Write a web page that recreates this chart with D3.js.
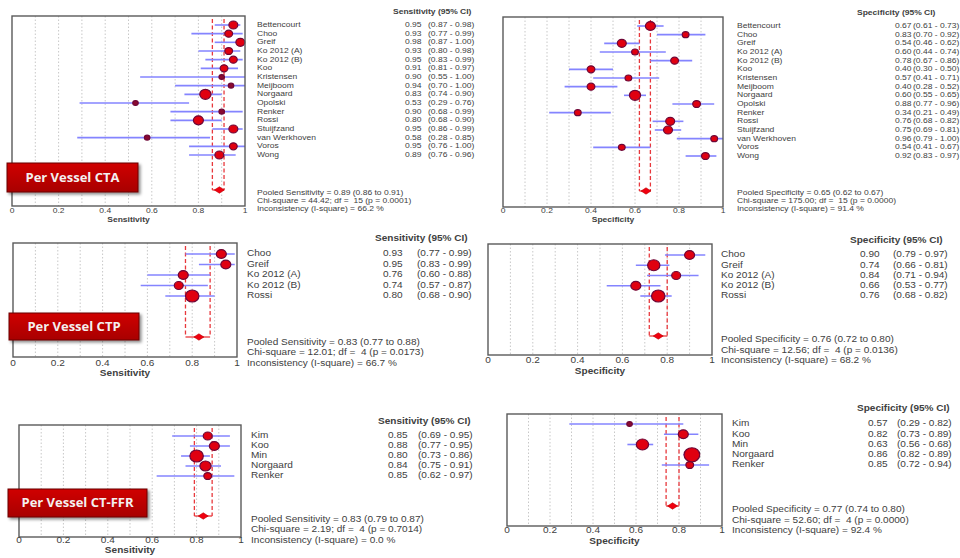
<!DOCTYPE html>
<html>
<head>
<meta charset="utf-8">
<script src="https://cdn.jsdelivr.net/npm/d3@7"></script>
<style>
  body { margin: 0; background: #fff; }
  text { font-family: "Liberation Sans", Arial, sans-serif; fill: #404040; white-space: pre; }
</style>
</head>
<body>
<svg id="chart" width="960" height="558"></svg>
<script>
// study names
const studiesCTA = ['Bettencourt', 'Choo', 'Greif', 'Ko 2012 (A)', 'Ko 2012 (B)', 'Koo', 'Kristensen', 'Meijboom',
    'Norgaard', 'Opolski', 'Renker', 'Rossi', 'Stuijfzand', 'van Werkhoven', 'Voros', 'Wong'];
const studiesCTP = ['Choo', 'Greif', 'Ko 2012 (A)', 'Ko 2012 (B)', 'Rossi'];
const studiesFFR = ['Kim', 'Koo', 'Min', 'Norgaard', 'Renker'];

// [estimate, lower, upper]
const sensCTA = [[0.95, 0.87, 0.98], [0.93, 0.77, 0.99], [0.98, 0.87, 1.00], [0.93, 0.80, 0.98],
    [0.95, 0.83, 0.99], [0.91, 0.81, 0.97], [0.90, 0.55, 1.00], [0.94, 0.70, 1.00],
    [0.83, 0.74, 0.90], [0.53, 0.29, 0.76], [0.90, 0.68, 0.99], [0.80, 0.68, 0.90],
    [0.95, 0.86, 0.99], [0.58, 0.28, 0.85], [0.95, 0.76, 1.00], [0.89, 0.76, 0.96]];
const specCTA = [[0.67, 0.61, 0.73], [0.83, 0.70, 0.92], [0.54, 0.46, 0.62], [0.60, 0.44, 0.74],
    [0.78, 0.67, 0.86], [0.40, 0.30, 0.50], [0.57, 0.41, 0.71], [0.40, 0.28, 0.52],
    [0.60, 0.55, 0.65], [0.88, 0.77, 0.96], [0.34, 0.21, 0.49], [0.76, 0.68, 0.82],
    [0.75, 0.69, 0.81], [0.96, 0.79, 1.00], [0.54, 0.41, 0.67], [0.92, 0.83, 0.97]];
const sensCTP = [[0.93, 0.77, 0.99], [0.95, 0.83, 0.99], [0.76, 0.60, 0.88], [0.74, 0.57, 0.87], [0.80, 0.68, 0.90]];
const specCTP = [[0.90, 0.79, 0.97], [0.74, 0.66, 0.81], [0.84, 0.71, 0.94], [0.66, 0.53, 0.77], [0.76, 0.68, 0.82]];
const sensFFR = [[0.85, 0.69, 0.95], [0.88, 0.77, 0.95], [0.80, 0.73, 0.86], [0.84, 0.75, 0.91], [0.85, 0.62, 0.97]];
const specFFR = [[0.57, 0.29, 0.82], [0.82, 0.73, 0.89], [0.63, 0.56, 0.68], [0.86, 0.82, 0.89], [0.85, 0.72, 0.94]];

// relative study weights (marker area)
const wSensCTA = [16, 12, 16, 12, 12, 12, 6, 6, 25, 6, 6, 20, 16, 6, 12, 16];
const wSpecCTA = [20, 9, 16, 9, 12, 12, 9, 12, 25, 12, 9, 16, 16, 9, 9, 12];
const wSensCTP = [20, 20, 20, 16, 36];
const wSpecCTP = [20, 30, 16, 20, 36];
const wSensFFR = [16, 20, 36, 25, 12];
const wSpecFFR = [6, 20, 30, 49, 12];

// pooled [estimate, lower, upper] and [chi-square, df, p, I-square]
const pooledSensCTA = [0.89, 0.86, 0.91], pooledSpecCTA = [0.65, 0.62, 0.67];
const pooledSensCTP = [0.83, 0.77, 0.88], pooledSpecCTP = [0.76, 0.72, 0.80];
const pooledSensFFR = [0.83, 0.79, 0.87], pooledSpecFFR = [0.77, 0.74, 0.80];
const statsSensCTA = ['44.42', 15, '0.0001', '66.2'], statsSpecCTA = ['175.00', 15, '0.0000', '91.4'];
const statsSensCTP = ['12.01', 4, '0.0173', '66.7'], statsSpecCTP = ['12.56', 4, '0.0136', '68.2'];
const statsSensFFR = ['2.19', 4, '0.7014', '0.0'], statsSpecFFR = ['52.60', 4, '0.0000', '92.4'];

const xTicks = [0, 0.2, 0.4, 0.6, 0.8, 1];
const gridTicks = [0.1, 0.2, 0.3, 0.4, 0.5, 0.6, 0.7, 0.8, 0.9];

const svg = d3.select('#chart');
const fmt = d3.format('.2f');
const rScale = d3.scaleSqrt().domain([0, 49]).range([0, 7]);

// layout of each panel
const panels = [
    {names: studiesCTA, data: sensCTA, w: wSensCTA, pool: pooledSensCTA, st: statsSensCTA, label: 'Sensitivity',
        x0: 12, x1: 245, top: 16, bottom: 206, y0: 25, y1: 155, yPool: 190, fs: 7.4, sx: 1.15,
        nameX: 257, valX: 405, ciX: 428, headX: 393, headY: 12, statY: [193, 201, 209], tickY: 211, labY: 220},
    {names: studiesCTA, data: specCTA, w: wSpecCTA, pool: pooledSpecCTA, st: statsSpecCTA, label: 'Specificity',
        x0: 503, x1: 723, top: 17, bottom: 207, y0: 26, y1: 156, yPool: 191, fs: 7.4, sx: 1.15,
        nameX: 737, valX: 895, ciX: 913, headX: 857, headY: 13, statY: [193, 201, 209], tickY: 211, labY: 220},
    {names: studiesCTP, data: sensCTP, w: wSensCTP, pool: pooledSensCTP, st: statsSensCTP, label: 'Sensitivity',
        x0: 13, x1: 237, top: 243, bottom: 357, y0: 254, y1: 296, yPool: 337, fs: 8.6, sx: 1.17,
        nameX: 247, valX: 383, ciX: 417, headX: 375, headY: 239, statY: [343, 353, 364], tickY: 364, labY: 374},
    {names: studiesCTP, data: specCTP, w: wSpecCTP, pool: pooledSpecCTP, st: statsSpecCTP, label: 'Specificity',
        x0: 488, x1: 712, top: 244, bottom: 355, y0: 255, y1: 296, yPool: 336, fs: 8.6, sx: 1.17,
        nameX: 721, valX: 860, ciX: 893, headX: 850, headY: 241, statY: [340, 351, 361], tickY: 361, labY: 372},
    {names: studiesFFR, data: sensFFR, w: wSensFFR, pool: pooledSensFFR, st: statsSensFFR, label: 'Sensitivity',
        x0: 19, x1: 241, top: 425, bottom: 537, y0: 436, y1: 476, yPool: 516, fs: 8.6, sx: 1.17,
        nameX: 251, valX: 388, ciX: 418, headX: 378, headY: 422, statY: [520, 530, 541], tickY: 541, labY: 551},
    {names: studiesFFR, data: specFFR, w: wSpecFFR, pool: pooledSpecFFR, st: statsSpecFFR, label: 'Specificity',
        x0: 507, x1: 722, top: 414, bottom: 526, y0: 424, y1: 465, yPool: 506, fs: 8.6, sx: 1.17,
        nameX: 732, valX: 868, ciX: 897, headX: 857, headY: 409, statY: [510, 521, 531], tickY: 531, labY: 542}
];

// text drawn slightly wide, like the scanned original
function place(sel, fx, fy, p, anchor) {
    return sel.attr('transform', (d, i) => `translate(${fx(d, i)},${fy(d, i)}) scale(${p.sx},1)`)
        .attr('text-anchor', anchor || 'start')
        .attr('dominant-baseline', 'middle')
        .attr('font-size', p.fs);
}

panels.forEach(p => {
    const g = svg.append('g');
    const x = d3.scaleLinear().domain([0, 1]).range([p.x0, p.x1]);
    const y = d3.scalePoint().domain(p.names).range([p.y0, p.y1]);
    const pool = p.pool;
    const st = p.st;

    // dotted grid
    g.selectAll('.grid').data(gridTicks).enter().append('line')
        .attr('x1', d => x(d)).attr('x2', d => x(d))
        .attr('y1', p.top).attr('y2', p.bottom)
        .attr('stroke', '#c8c8c8').attr('stroke-width', 1).attr('stroke-dasharray', '1.5,2');

    // pooled CI bracket
    g.selectAll('.pci').data([pool[1], pool[2]]).enter().append('line')
        .attr('x1', d => x(d)).attr('x2', d => x(d))
        .attr('y1', p.top + 3).attr('y2', p.yPool)
        .attr('stroke', '#e8383c').attr('stroke-width', 1.3).attr('stroke-dasharray', '4,2.5');
    g.append('line')
        .attr('x1', x(pool[1])).attr('x2', x(pool[2]))
        .attr('y1', p.yPool).attr('y2', p.yPool)
        .attr('stroke', '#e8383c').attr('stroke-width', 1.3);

    // CI lines
    g.selectAll('.ci').data(p.data).enter().append('line')
        .attr('x1', d => x(d[1])).attr('x2', d => x(d[2]))
        .attr('y1', (d, i) => y(p.names[i])).attr('y2', (d, i) => y(p.names[i]))
        .attr('stroke', '#8484ff').attr('stroke-width', 1.6);

    // study markers
    g.selectAll('.pt').data(p.data).enter().append('ellipse')
        .attr('cx', d => x(d[0]))
        .attr('cy', (d, i) => y(p.names[i]))
        .attr('rx', (d, i) => rScale(p.w[i]) * 1.12)
        .attr('ry', (d, i) => rScale(p.w[i]))
        .attr('fill', (d, i) => p.w[i] < 9 ? '#8a0a30' : '#e00010')
        .attr('stroke', '#6e0636').attr('stroke-width', 1.2);

    // pooled diamond
    const cx = x(pool[0]);
    g.append('path')
        .attr('d', `M${cx - 5},${p.yPool} L${cx},${p.yPool - 3.2} L${cx + 5},${p.yPool} L${cx},${p.yPool + 3.2} Z`)
        .attr('fill', '#f00010').attr('stroke', '#c00000').attr('stroke-width', 0.6);

    // frame
    g.append('rect')
        .attr('x', p.x0).attr('y', p.top)
        .attr('width', p.x1 - p.x0).attr('height', p.bottom - p.top)
        .attr('fill', 'none').attr('stroke', '#5a5a5a').attr('stroke-width', 1.4);

    // x tick labels
    place(g.selectAll('.tick').data(xTicks).enter().append('text'), d => x(d), () => p.tickY, p, 'middle')
        .text(d => d);
    place(g.append('text').datum(0), () => x(0.5), () => p.labY, p, 'middle')
        .attr('font-weight', 'bold')
        .text(p.label);

    // header
    place(g.append('text').datum(0), () => p.headX, () => p.headY, p)
        .attr('font-weight', 'bold')
        .text(p.label + ' (95% CI)');

    // study rows
    const rows = g.selectAll('.row').data(p.data).enter().append('g');
    place(rows.append('text'), () => p.nameX, (d, i) => y(p.names[i]), p)
        .text((d, i) => p.names[i]);
    place(rows.append('text'), () => p.valX, (d, i) => y(p.names[i]), p)
        .text(d => fmt(d[0]));
    place(rows.append('text'), () => p.ciX, (d, i) => y(p.names[i]), p)
        .text(d => `(${fmt(d[1])} - ${fmt(d[2])})`);

    // pooled stats
    const lines = [
        `Pooled ${p.label} = ${fmt(pool[0])} (${fmt(pool[1])} to ${fmt(pool[2])})`,
        `Chi-square = ${st[0]}; df =  ${st[1]} (p = ${st[2]})`,
        `Inconsistency (I-square) = ${st[3]} %`
    ];
    place(g.selectAll('.stat').data(lines).enter().append('text'), () => p.nameX, (d, i) => p.statY[i], p)
        .text(d => d);
});

// red labels
const tags = [
    {text: 'Per Vessel CTA', x: 7, y: 163, w: 131, h: 29},
    {text: 'Per Vessel CTP', x: 9, y: 313, w: 130, h: 27},
    {text: 'Per Vessel CT-FFR', x: 8, y: 489, w: 139, h: 28}
];
const defs = svg.append('defs');
const grad = defs.append('linearGradient').attr('id', 'tagGrad').attr('x1', 0).attr('y1', 0).attr('x2', 0).attr('y2', 1);
grad.append('stop').attr('offset', '0%').attr('stop-color', '#d00000');
grad.append('stop').attr('offset', '100%').attr('stop-color', '#a80000');
defs.append('filter').attr('id', 'shadow').attr('x', '-10%').attr('y', '-20%').attr('width', '130%').attr('height', '160%')
    .append('feDropShadow').attr('dx', 2).attr('dy', 2).attr('stdDeviation', 1.5).attr('flood-color', '#000').attr('flood-opacity', 0.45);

tags.forEach(t => {
    svg.append('rect')
        .attr('x', t.x).attr('y', t.y).attr('width', t.w).attr('height', t.h)
        .attr('fill', 'url(#tagGrad)').attr('stroke', '#6a0000').attr('stroke-width', 1)
        .attr('filter', 'url(#shadow)');
    svg.append('text')
        .attr('x', t.x + t.w / 2).attr('y', t.y + t.h / 2 + 1)
        .attr('text-anchor', 'middle').attr('dominant-baseline', 'middle')
        .style('font-family', '"Open Sans", sans-serif').style('fill', '#f4f0f0')
        .attr('font-size', 13).attr('font-weight', 'bold')
        .text(t.text);
});
</script>
</body>
</html>
